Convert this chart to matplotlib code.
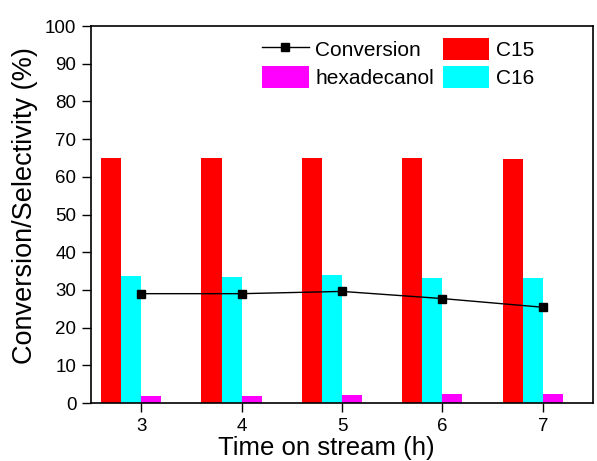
import numpy as np
import matplotlib
matplotlib.use('Agg')
import matplotlib.pyplot as plt

plt.rcParams['font.family'] = ['Liberation Sans', 'DejaVu Sans']

# Data
hours = [3, 4, 5, 6, 7]
c15 = [64.9, 64.9, 64.9, 64.9, 64.6]
c16 = [33.6, 33.3, 34.0, 33.1, 33.1]
hexadecanol = [1.9, 1.9, 2.1, 2.3, 2.4]
conversion = [29.0, 29.0, 29.6, 27.7, 25.4]

x = np.array(hours, dtype=float)
w = 0.2

fig = plt.figure(figsize=(5.97, 4.61), dpi=100)
ax = fig.add_axes([0.1524, 0.1258, 0.8409, 0.8178])

b1 = ax.bar(x - 0.3, c15, w, color='#ff0000', label='C15')
b2 = ax.bar(x - 0.1, c16, w, color='#00ffff', label='C16')
b3 = ax.bar(x + 0.1, hexadecanol, w, color='#ff00ff', label='hexadecanol')
l1, = ax.plot(x, conversion, '-s', color='black', lw=1,
              markersize=6, label='Conversion', zorder=3)

ax.set_xlim(2.5, 7.5)
ax.set_ylim(0, 100)
ax.set_xticks(hours)
ax.set_yticks(range(0, 101, 10))
ax.tick_params(axis='both', direction='out', length=6.5, width=1,
               labelsize=13.5, pad=4, top=False, right=False)
ax.tick_params(axis='x', pad=4)
for s in ax.spines.values():
    s.set_linewidth(1.2)

ax.set_xlabel('Time on stream (h)', fontsize=18.5)
ax.set_ylabel('Conversion/Selectivity (%)', fontsize=19.5)
ax.xaxis.set_label_coords(0.469, -0.087)
ax.yaxis.set_label_coords(-0.106, 0.525)

ax.legend([l1, b3, b1, b2], ['Conversion', 'hexadecanol', 'C15', 'C16'],
          ncol=2, frameon=False, fontsize=15, loc='upper left',
          bbox_to_anchor=(0.34, 0.967), borderpad=0, borderaxespad=0,
          handlelength=2.25, handleheight=1.25, labelspacing=0.25,
          columnspacing=0.4, handletextpad=0.33)

fig.savefig('out.png', dpi=100)
